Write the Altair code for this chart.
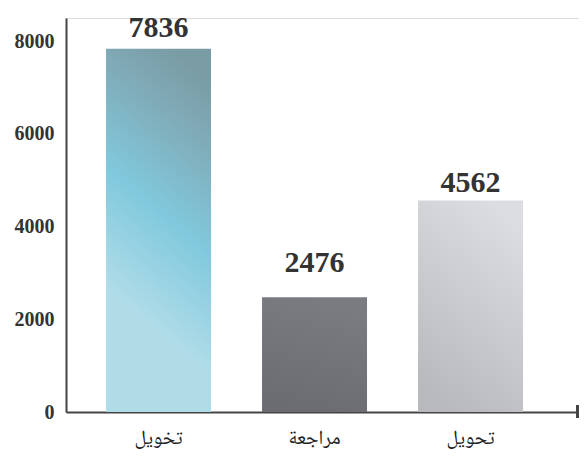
import altair as alt
import pandas as pd

categories = ["تخويل", "مراجعة", "تحويل"]
values = [7836, 2476, 4562]
y_ticks = [0, 2000, 4000, 6000, 8000]

df = pd.DataFrame({"cat": categories, "val": values, "order": [0, 1, 2]})

label_dy = [-12, -25, -9]

num_font = "Liberation Serif"

gradients = [
    {"gradient": "linear", "x1": 0.62, "y1": 0, "x2": 0.38, "y2": 1,
     "stops": [{"offset": 0, "color": "#7a9ca5"}, {"offset": 0.18, "color": "#80acb9"},
               {"offset": 0.45, "color": "#80c9dd"}, {"offset": 0.76, "color": "#b0dce8"},
               {"offset": 1, "color": "#b0dce8"}]},
    {"gradient": "linear", "x1": 0.62, "y1": 0, "x2": 0.38, "y2": 1,
     "stops": [{"offset": 0, "color": "#7b7c81"}, {"offset": 1, "color": "#6b6c71"}]},
    {"gradient": "linear", "x1": 0.7, "y1": 0, "x2": 0.3, "y2": 1,
     "stops": [{"offset": 0, "color": "#dcdde0"}, {"offset": 1, "color": "#b8b9bd"}]},
]

x_enc = alt.X("cat:N", sort=categories, title=None,
              scale=alt.Scale(paddingInner=0.327, paddingOuter=0.3077, align=0.417),
              axis=alt.Axis(labelAngle=0, ticks=False, domainColor="#444444", domainWidth=2,
                            labelFont="'Noto Naskh Arabic', 'DejaVu Sans'", labelFontSize=20,
                            labelColor="#222222", labelPadding=15))
y_enc = alt.Y("val:Q", title=None,
              scale=alt.Scale(domain=[0, 8500], nice=False),
              axis=alt.Axis(values=y_ticks, format="d", grid=False, ticks=False,
                            domainColor="#444444", domainWidth=2,
                            labelFont=num_font, labelFontWeight="bold",
                            labelFontSize=20, labelColor="#333333", labelPadding=12))

base = alt.Chart(df)
layers = []
for i, c in enumerate(categories):
    layers.append(
        base.transform_filter(alt.datum.order == i)
        .mark_bar(fill=gradients[i])
        .encode(x=x_enc, y=y_enc)
    )

text_layers = []
for i, c in enumerate(categories):
    text_layers.append(
        base.transform_filter(alt.datum.order == i)
        .mark_text(baseline="alphabetic", dy=label_dy[i], font=num_font,
                   fontWeight="bold", fontSize=30, color="#333333")
        .encode(x=alt.X("cat:N", sort=categories), y="val:Q", text="val:Q")
    )

endtick = alt.Chart(df).mark_rule(color="#444444", strokeWidth=3).encode(
    x=alt.value(511.5), y=alt.value(387), y2=alt.value(400))

chart = alt.layer(*layers, *text_layers, endtick).properties(
    width=513, height=394,
    autosize=alt.AutoSizeParams(type="none"),
    padding={"left": 58, "top": 10, "right": 0, "bottom": 50},
).configure_view(strokeWidth=0, stroke="transparent").configure(background="white")

chart.save("out.html", embed_options={"renderer": "svg", "actions": False})
